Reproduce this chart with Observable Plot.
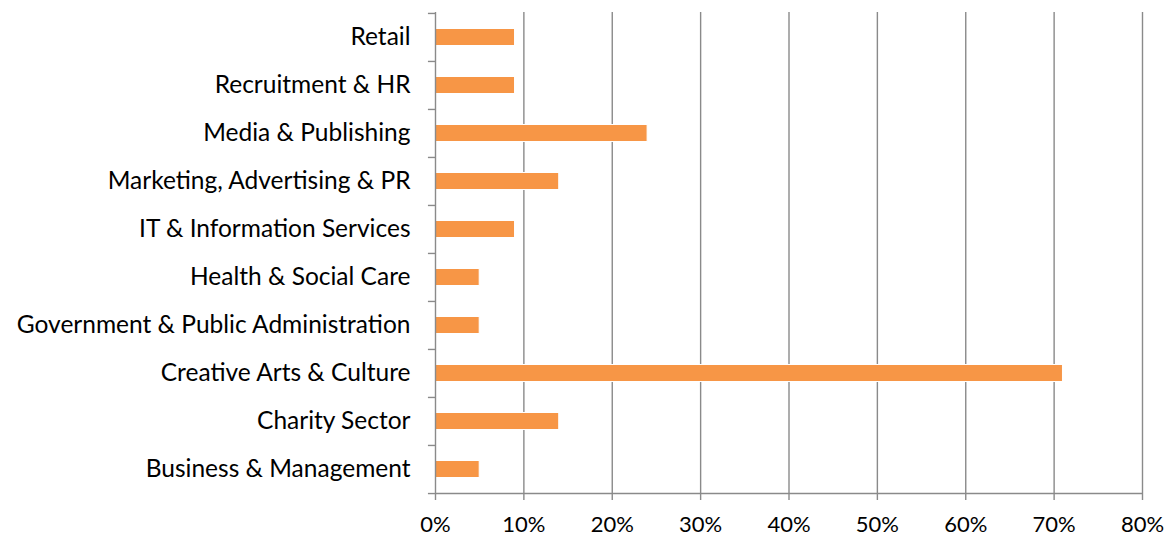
<!DOCTYPE html>
<html>
<head>
<meta charset="utf-8">
<script src="https://cdn.jsdelivr.net/npm/d3@7"></script>
<script src="https://cdn.jsdelivr.net/npm/@observablehq/plot@0.6"></script>
<style>
  html, body { margin: 0; padding: 0; background: #fff; }
  #chart { width: 1173px; height: 539px; }
</style>
</head>
<body>
<div id="chart"></div>
<script>
const categories = [
  "Retail",
  "Recruitment & HR",
  "Media & Publishing",
  "Marketing, Advertising & PR",
  "IT & Information Services",
  "Health & Social Care",
  "Government & Public Administration",
  "Creative Arts & Culture",
  "Charity Sector",
  "Business & Management"
];
const values = [9, 9, 24, 14, 9, 5, 5, 71, 14, 5];
const xTicks = [0, 10, 20, 30, 40, 50, 60, 70, 80];

const data = categories.map((c, i) => ({category: c, value: values[i]}));

const W = 1173, H = 539;
const mT = 12, mB = 46, mL = 435, mR = 31;
const step = (H - mT - mB) / categories.length;
const grid = "#8a8a8a";
const font = "Lato, sans-serif";

const chart = Plot.plot({
  width: W,
  height: H,
  marginTop: mT,
  marginBottom: mB,
  marginLeft: mL,
  marginRight: mR,
  style: {fontFamily: font, fontSize: "22px", color: "#000", background: "#fff", overflow: "visible"},
  x: {domain: [0, 80], label: null},
  y: {domain: categories, padding: 0, label: null},
  marks: [
    Plot.ruleX(xTicks.filter(d => d > 0), {stroke: grid, strokeWidth: 1.4}),
    Plot.barX(data, {
      x: "value",
      y: "category",
      fill: "#F79646",
      stroke: "#fff",
      strokeWidth: 1,
      insetTop: 15.5,
      insetBottom: 15.5,
      style: "filter: drop-shadow(2px 3px 2px rgba(0,0,0,0.4))"
    }),
    Plot.ruleX([0], {stroke: grid, strokeWidth: 1.4}),
    Plot.ruleY([0], {y: () => categories[categories.length - 1], dy: step / 2, x1: 0, x2: 80, stroke: grid, strokeWidth: 1.4}),
    Plot.ruleY(categories, {y: d => d, dy: -step / 2, x1: -0.8, x2: 0, stroke: grid, strokeWidth: 1.4}),
    Plot.ruleY([categories[categories.length - 1]], {y: d => d, dy: step / 2, x1: -0.8, x2: 0, stroke: grid, strokeWidth: 1.4}),
    Plot.axisX({ticks: xTicks, tickFormat: d => d + "%", tickSize: 7, stroke: grid, tickPadding: 16, fontSize: 22, fill: "#000", strokeWidth: 1.4, label: null}),
    Plot.axisY({tickSize: 0, tickPadding: 25, fontSize: 24.5, fill: "#000", label: null})
  ]
});
document.getElementById("chart").appendChild(chart);
</script>
</body>
</html>
